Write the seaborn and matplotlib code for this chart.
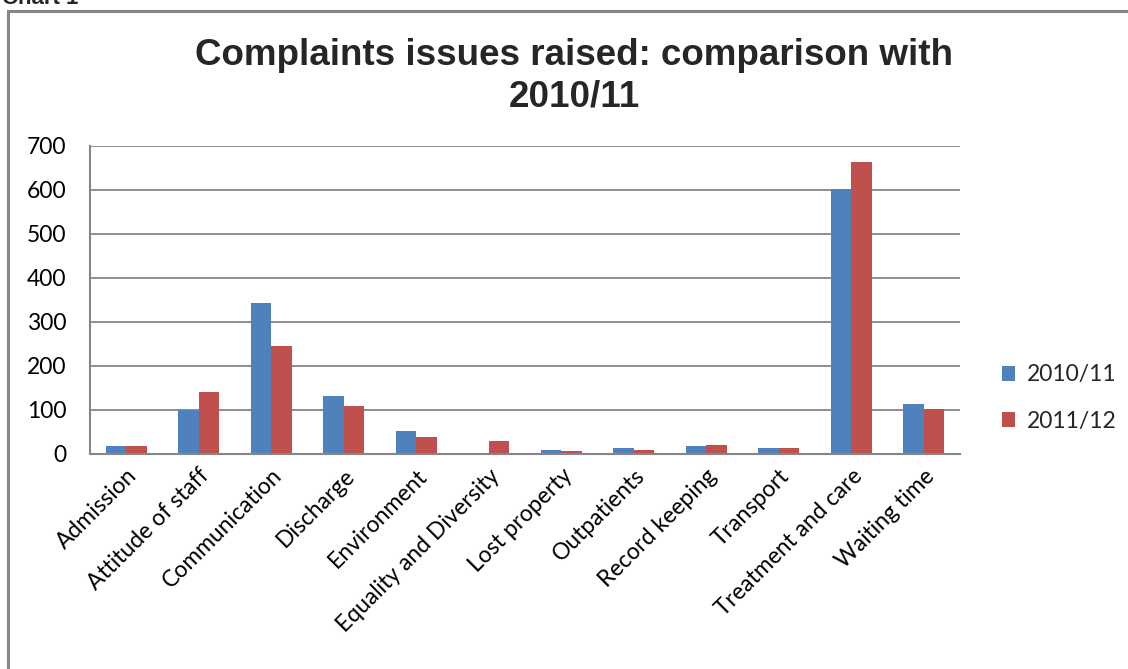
import matplotlib
matplotlib.use("Agg")
import matplotlib.pyplot as plt
import seaborn as sns
import pandas as pd
from matplotlib.patches import Rectangle, Patch

categories = ["Admission", "Attitude of staff", "Communication", "Discharge",
              "Environment", "Equality and Diversity", "Lost property",
              "Outpatients", "Record keeping", "Transport",
              "Treatment and care", "Waiting time"]
series_names = ["2010/11", "2011/12"]
values_2010 = [18, 100, 343, 132, 53, 0, 9, 14, 18, 14, 602, 114]
values_2011 = [18, 140, 245, 108, 39, 30, 7, 9, 21, 14, 663, 102]
yticks = [0, 100, 200, 300, 400, 500, 600, 700]
title = "Complaints issues raised: comparison with\n2010/11"

colors = ["#4F81BD", "#C0504D"]

df = pd.DataFrame({
    "Issue": categories * 2,
    "Year": [series_names[0]] * len(categories) + [series_names[1]] * len(categories),
    "Count": values_2010 + values_2011,
})

sns.set_theme(style="white")
plt.rcParams['font.family'] = ['Lato', 'DejaVu Sans']

W, H = 1128, 669
fig = plt.figure(figsize=(W / 100, H / 100), dpi=100)
fig.patch.set_facecolor("white")

# outer chart border
fig.patches.append(Rectangle((8 / W, -0.1), 1.2, 1 - 11 / H + 0.1,
                             transform=fig.transFigure, fill=False,
                             edgecolor="#868686", linewidth=2.2))
fig.text(2 / W, 1 + 12 / H, "Chart 1", fontsize=16, fontweight="bold",
         family="Liberation Sans", va="top", ha="left")

ax = fig.add_axes([90 / W, 1 - 454 / H, 870 / W, 308.3 / H])
sns.barplot(data=df, x="Issue", y="Count", hue="Year", palette=colors,
            width=0.57, gap=0, ax=ax, legend=False, saturation=1,
            linewidth=0, edgecolor="none")

ax.set_ylim(0, 700)
ax.set_yticks(yticks)
ax.set_xlim(-0.5, len(categories) - 0.5)
ax.yaxis.grid(True, color="#868686", linewidth=1.3)
ax.set_axisbelow(True)
for s in ["top", "right"]:
    ax.spines[s].set_visible(False)
for s in ["left", "bottom"]:
    ax.spines[s].set_color("#868686")
    ax.spines[s].set_linewidth(1.5)
ax.set_xlabel("")
ax.set_ylabel("")
ax.tick_params(axis="both", length=0, labelsize=16.5, colors="black")
ax.tick_params(axis="y", pad=17)
plt.setp(ax.get_xticklabels(), rotation=45, ha="right", rotation_mode="anchor")
ax.tick_params(axis="x", pad=8)

fig.text(574 / W, 1 - 38 / H, title, ha="center", va="top", fontsize=26.5,
         fontweight="bold", family="Liberation Sans", linespacing=1.25)

handles = [Patch(facecolor=c, edgecolor="none") for c in colors]
fig.legend(handles, series_names, loc="center left",
           bbox_to_anchor=(981 / W, 1 - 398 / H), frameon=False,
           fontsize=16.5, handlelength=0.6, handleheight=0.6,
           handletextpad=0.5, labelspacing=1.1)

fig.savefig("out.png", dpi=100, facecolor="white")
